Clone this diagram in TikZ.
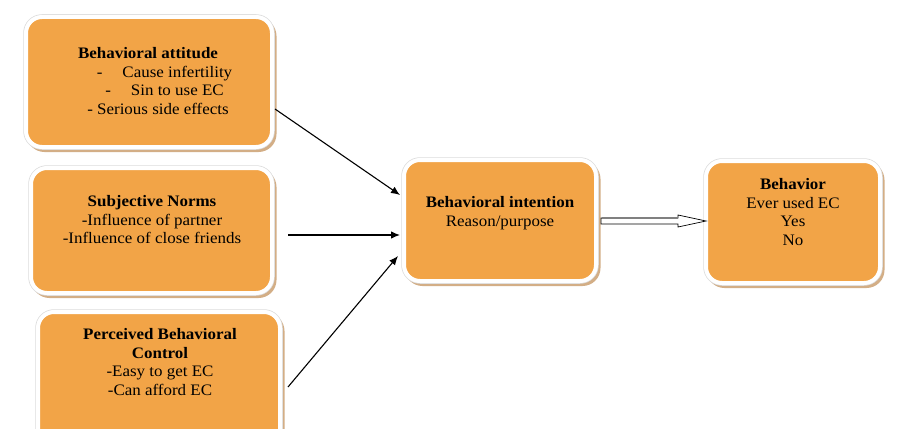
\documentclass[tikz,border=0pt]{standalone}
\usepackage{fontspec}
\setmainfont[FakeStretch=1.06]{Liberation Serif}
\usetikzlibrary{arrows.meta,calc}
\definecolor{boxorange}{HTML}{F2A447}
\definecolor{boxshadow}{HTML}{D3AE86}
\definecolor{boxrim}{HTML}{DCDCDC}
\tikzset{
  ebox/.style={rectangle, rounded corners=16pt, inner sep=0pt,
    fill=boxorange, draw=white, line width=4pt,
    preaction={fill=boxshadow, draw=boxshadow, line width=4pt, transform canvas={shift={(2.5pt,-3pt)}}},
    preaction={draw=boxrim, line width=5.5pt}},
  etext/.style={align=center, inner sep=0pt, anchor=north,
    font=\fontsize{16}{18.8}\selectfont},
  earrow/.style={draw=black, line width=1.1pt, -{Latex[length=9pt,width=7.5pt]}},
}
\begin{document}
\begin{tikzpicture}[x=1pt,y=-1pt]
\useasboundingbox (0,0) rectangle (904,428);
\node[ebox, minimum width=246pt, minimum height=130pt] (b1) at (149,82) {};
\node[ebox, minimum width=241pt, minimum height=125pt] (b2) at (151.5,230.5) {};
\node[ebox, minimum width=242pt, minimum height=134pt] (b3) at (159,379) {};
\node[ebox, minimum width=192pt, minimum height=121pt] (b4) at (500,220.5) {};
\node[ebox, minimum width=174pt, minimum height=122pt] (b5) at (793,222) {};

\node[etext] (t1) at (148,47) {\textbf{Behavioral attitude}\\
\hspace*{33pt}-\hspace{20pt}Cause infertility\\
\hspace*{33pt}-\hspace{20pt}Sin to use EC\\
\hspace*{20pt}- Serious side effects};
\node[etext] (t2) at (152,195) {\textbf{Subjective Norms}\\-Influence of partner\\-Influence of close friends};
\node[etext] (t3) at (160,328) {\textbf{Perceived Behavioral}\\\textbf{Control}\\-Easy to get EC\\-Can afford EC};
\node[etext] (t4) at (500,196) {\textbf{Behavioral intention}\\Reason/purpose};
\node[etext] (t5) at (793,178) {\textbf{Behavior}\\Ever used EC\\Yes\\No};

\draw[earrow] ([xshift=1pt,yshift=-27pt]b1.east) -- ([xshift=-2pt,yshift=25.5pt]b4.west);
\draw[earrow] ([xshift=14pt,yshift=-4.5pt]b2.east) -- ([xshift=-2pt,yshift=-14.5pt]b4.west);
\draw[earrow] ([xshift=6pt,yshift=-8pt]b3.east) -- ([xshift=-4pt,yshift=-35.5pt]b4.west);

\coordinate (ha) at ([xshift=3pt,yshift=-0.5pt]b4.east);
\coordinate (hz) at ([xshift=2pt,yshift=1pt]b5.west);
\draw[black, line width=0.7pt, fill=white, line join=miter]
  ($(ha)+(0,-3)$) -- ($(hz)+(-28,-3)$) -- ($(hz)+(-28,-6)$) -- (hz)
  -- ($(hz)+(-28,6)$) -- ($(hz)+(-28,3)$) -- ($(ha)+(0,3)$) -- cycle;
\draw[gray, line width=1.6pt] ($(ha)+(0.5,-3)$) -- ($(hz)+(-28,-3)$);
\end{tikzpicture}
\end{document}
